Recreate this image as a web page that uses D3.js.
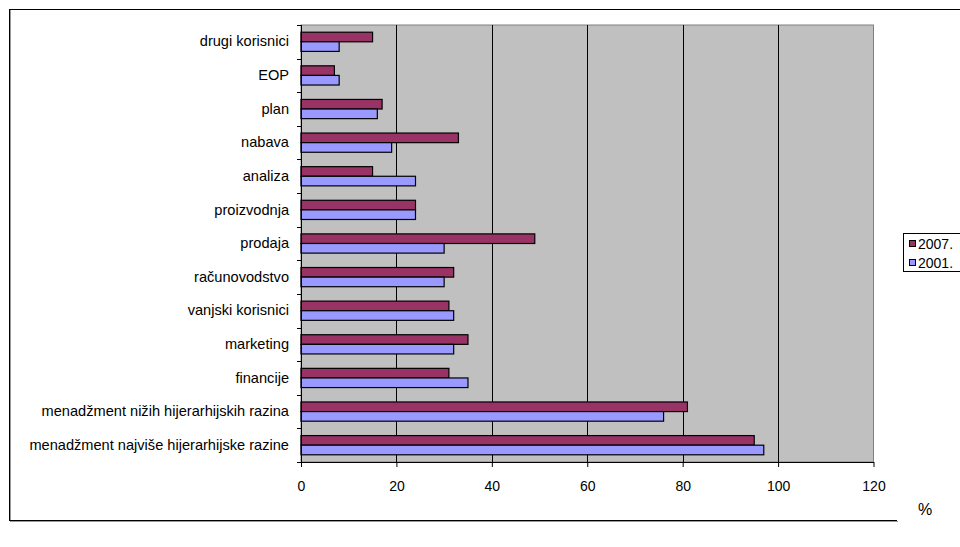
<!DOCTYPE html>
<html><head><meta charset="utf-8">
<script src="https://cdn.jsdelivr.net/npm/d3@7"></script>
<style>
html,body{margin:0;padding:0;background:#fff;}
svg{display:block;}
text{font-family:"Liberation Sans",Arial,sans-serif;}
</style></head>
<body>
<svg id="c" width="960" height="547"></svg>
<script>
const categories = ["drugi korisnici","EOP","plan","nabava","analiza","proizvodnja","prodaja","računovodstvo","vanjski korisnici","marketing","financije","menadžment nižih hijerarhijskih razina","menadžment najviše hijerarhijske razine"];
const series2007 = [15,7,17,33,15,24,49,32,31,35,31,81,95];
const series2001 = [8,8,16,19,24,24,30,30,32,32,35,76,97];
const seriesNames = ["2007.","2001."];
const seriesColors = ["#993366","#9999FF"];
const xTicks = [0,20,40,60,80,100,120];

const svg = d3.select("#c");
const L = 301, R = 873.5, T = 25, B = 462;
const FS = 14.6;

// outer chart border (with slight grey shadow)
svg.append("line").attr("x1",10.5).attr("x2",10.5).attr("y1",10).attr("y2",522).attr("stroke","#999");
svg.append("line").attr("x1",10).attr("x2",898).attr("y1",521.5).attr("y2",521.5).attr("stroke","#999");
svg.append("line").attr("x1",9.5).attr("x2",9.5).attr("y1",9).attr("y2",521).attr("stroke","#000");
svg.append("line").attr("x1",9).attr("x2",960).attr("y1",9.5).attr("y2",9.5).attr("stroke","#000");
svg.append("line").attr("x1",9).attr("x2",897).attr("y1",520.5).attr("y2",520.5).attr("stroke","#000");

const x = d3.scaleLinear().domain([0,120]).range([L,R]);
const y = d3.scaleBand().domain(categories).range([T,B]);
const inner = d3.scaleBand().domain(seriesNames).range([0,y.bandwidth()]).paddingInner(0).paddingOuter(0.75);

// plot area
svg.append("rect").attr("x",L).attr("y",T).attr("width",R-L).attr("height",B-T).attr("fill","#C0C0C0").attr("stroke","#808080");

// gridlines
svg.append("g").selectAll("line").data(xTicks.filter(d=>d>0 && d<120)).join("line")
  .attr("x1",d=>Math.round(x(d))+0.5).attr("x2",d=>Math.round(x(d))+0.5).attr("y1",T).attr("y2",B)
  .attr("stroke","#000").attr("stroke-width",1);

// bars
const data = categories.map((c,i)=>({c, vals:[{s:seriesNames[0],v:series2007[i],col:seriesColors[0]},{s:seriesNames[1],v:series2001[i],col:seriesColors[1]}]}));
const g = svg.append("g");
data.forEach(d=>{
  g.selectAll(null).data(d.vals).join("rect")
    .attr("x",x(0)).attr("y",v=>y(d.c)+inner(v.s))
    .attr("width",v=>x(v.v)-x(0)).attr("height",inner.bandwidth())
    .attr("fill",v=>v.col).attr("stroke","#000").attr("stroke-width",1.2);
});

// y axis
const yAxis = d3.axisLeft(y).tickSize(0).tickPadding(12);
const ya = svg.append("g").attr("transform",`translate(${L},0)`).call(yAxis);
ya.select(".domain").remove();
ya.selectAll("text").attr("font-size",FS).attr("fill","#000").attr("font-family","Liberation Sans, Arial, sans-serif");
svg.append("line").attr("x1",L+0.5).attr("x2",L+0.5).attr("y1",T).attr("y2",B+4).attr("stroke","#000");
// category boundary ticks
const bounds = categories.map(c=>y(c)).concat([B]);
svg.append("g").selectAll("line").data(bounds).join("line")
  .attr("x1",L-4).attr("x2",L).attr("y1",d=>Math.round(d)+0.5).attr("y2",d=>Math.round(d)+0.5).attr("stroke","#000");

// x axis
const xAxis = d3.axisBottom(x).tickValues(xTicks).tickSize(5).tickPadding(14).tickSizeOuter(0);
const xa = svg.append("g").attr("transform",`translate(0,${B})`).call(xAxis);
xa.select(".domain").attr("stroke","#000");
xa.selectAll("text").attr("font-size",14).attr("fill","#000").attr("font-family","Liberation Sans, Arial, sans-serif");

// legend
const lg = svg.append("g");
lg.append("rect").attr("x",903.5).attr("y",233.5).attr("width",70).attr("height",38).attr("fill","#fff").attr("stroke","#000");
seriesNames.forEach((s,i)=>{
  lg.append("rect").attr("x",909.5).attr("y",240.5+i*19).attr("width",6).attr("height",6).attr("fill",seriesColors[i]).attr("stroke","#000");
  lg.append("text").attr("x",918).attr("y",248.5+i*19).attr("font-size",14).text(s);
});

// unit label
svg.append("text").attr("x",918).attr("y",515).attr("font-family","Liberation Serif, Times New Roman, serif").attr("font-size",16).text("%");
</script>
</body></html>
